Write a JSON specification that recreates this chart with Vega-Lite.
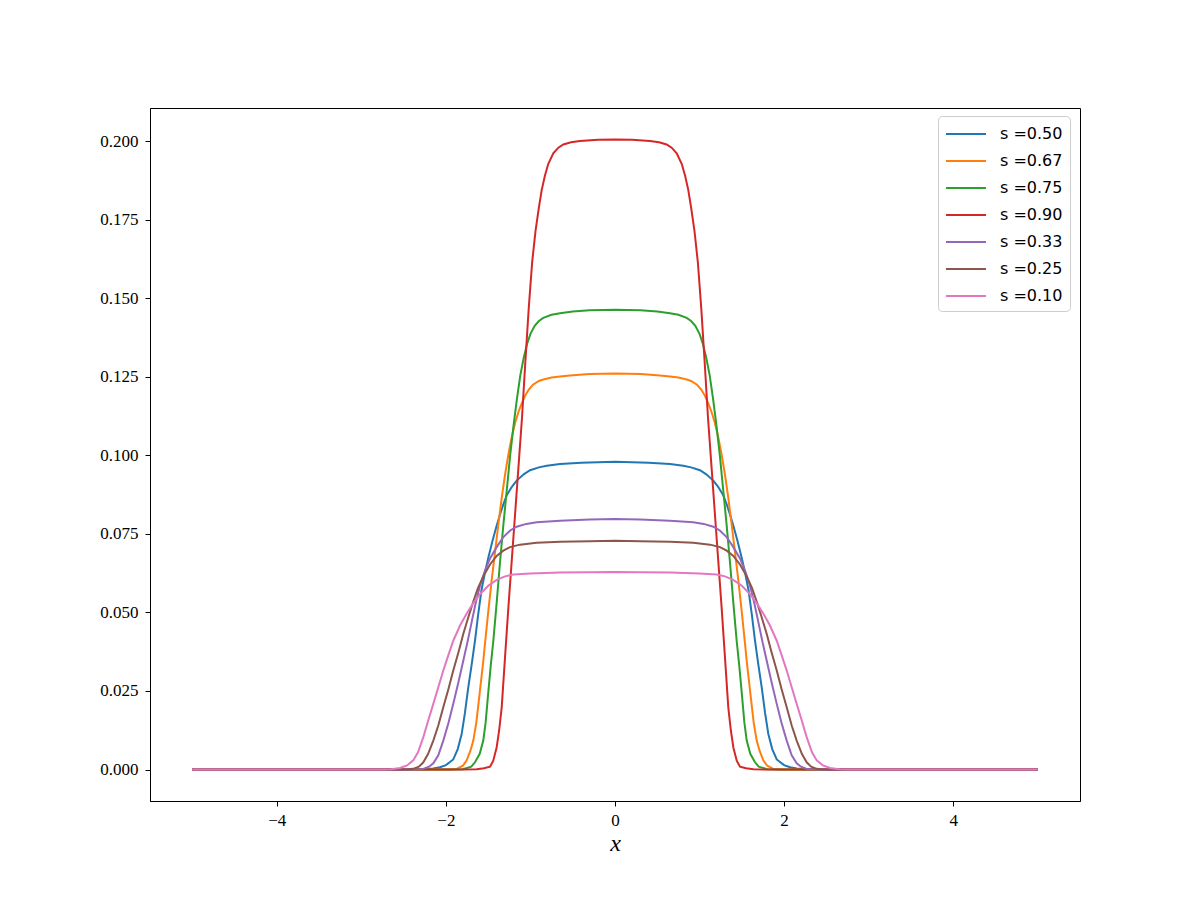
{
  "$schema": "https://vega.github.io/schema/vega-lite/v6.json",
  "width": 930,
  "height": 693,
  "autosize": {"type": "none"},
  "padding": {"left": 150, "top": 108, "right": 120, "bottom": 99},
  "background": "white",
  "config": {
    "view": {"stroke": "black", "strokeWidth": 1},
    "axis": {
      "domainColor": "black", "domainWidth": 1, "tickColor": "black", "tickSize": 5, "tickWidth": 1,
      "grid": false, "labelFont": "Liberation Serif", "labelFontSize": 17, "labelColor": "black",
      "titleFont": "Liberation Serif", "titleColor": "black"
    },
    "legend": {
      "padding": 7, "strokeColor": "#cccccc", "fillColor": "rgba(255,255,255,0.8)", "cornerRadius": 4,
      "labelFont": "DejaVu Sans", "labelFontSize": 16, "labelColor": "black",
      "symbolStrokeWidth": 2, "rowPadding": 8, "labelOffset": 33
    }
  },
  "data": {"values": [
    {"c":"s =0.50","x":-5,"y":0},{"c":"s =0.50","x":-2.4,"y":0},{"c":"s =0.50","x":-2.25,"y":0.0001},{"c":"s =0.50","x":-2.15,"y":0.0003},{"c":"s =0.50","x":-2.07,"y":0.0007},{"c":"s =0.50","x":-2.0,"y":0.0014},{"c":"s =0.50","x":-1.913,"y":0.0032},{"c":"s =0.50","x":-1.86,"y":0.0065},{"c":"s =0.50","x":-1.813,"y":0.0114},{"c":"s =0.50","x":-1.775,"y":0.018},{"c":"s =0.50","x":-1.735,"y":0.0262},{"c":"s =0.50","x":-1.695,"y":0.0335},{"c":"s =0.50","x":-1.656,"y":0.041},{"c":"s =0.50","x":-1.62,"y":0.049},{"c":"s =0.50","x":-1.58,"y":0.057},{"c":"s =0.50","x":-1.54,"y":0.0625},{"c":"s =0.50","x":-1.5,"y":0.0673},{"c":"s =0.50","x":-1.45,"y":0.0727},{"c":"s =0.50","x":-1.4,"y":0.0776},{"c":"s =0.50","x":-1.36,"y":0.0812},{"c":"s =0.50","x":-1.32,"y":0.0845},{"c":"s =0.50","x":-1.281,"y":0.0873},{"c":"s =0.50","x":-1.22,"y":0.09},{"c":"s =0.50","x":-1.163,"y":0.092},{"c":"s =0.50","x":-1.08,"y":0.094},{"c":"s =0.50","x":-1.005,"y":0.0953},{"c":"s =0.50","x":-0.9,"y":0.0962},{"c":"s =0.50","x":-0.808,"y":0.0967},{"c":"s =0.50","x":-0.65,"y":0.0973},{"c":"s =0.50","x":-0.4,"y":0.0977},{"c":"s =0.50","x":0,"y":0.098},
    {"c":"s =0.50","x":0.4,"y":0.0977},{"c":"s =0.50","x":0.65,"y":0.0973},{"c":"s =0.50","x":0.808,"y":0.0967},{"c":"s =0.50","x":0.9,"y":0.0962},{"c":"s =0.50","x":1.005,"y":0.0953},{"c":"s =0.50","x":1.08,"y":0.094},{"c":"s =0.50","x":1.163,"y":0.092},{"c":"s =0.50","x":1.22,"y":0.09},{"c":"s =0.50","x":1.281,"y":0.0873},{"c":"s =0.50","x":1.32,"y":0.0845},{"c":"s =0.50","x":1.36,"y":0.0812},{"c":"s =0.50","x":1.4,"y":0.0776},{"c":"s =0.50","x":1.45,"y":0.0727},{"c":"s =0.50","x":1.5,"y":0.0673},{"c":"s =0.50","x":1.54,"y":0.0625},{"c":"s =0.50","x":1.58,"y":0.057},{"c":"s =0.50","x":1.62,"y":0.049},{"c":"s =0.50","x":1.656,"y":0.041},{"c":"s =0.50","x":1.695,"y":0.0335},{"c":"s =0.50","x":1.735,"y":0.0262},{"c":"s =0.50","x":1.775,"y":0.018},{"c":"s =0.50","x":1.813,"y":0.0114},{"c":"s =0.50","x":1.86,"y":0.0065},{"c":"s =0.50","x":1.913,"y":0.0032},{"c":"s =0.50","x":2.0,"y":0.0014},{"c":"s =0.50","x":2.07,"y":0.0007},{"c":"s =0.50","x":2.15,"y":0.0003},{"c":"s =0.50","x":2.25,"y":0.0001},{"c":"s =0.50","x":2.4,"y":0},{"c":"s =0.50","x":5,"y":0},

    {"c":"s =0.67","x":-5,"y":0},{"c":"s =0.67","x":-2.3,"y":0},{"c":"s =0.67","x":-1.95,"y":0},{"c":"s =0.67","x":-1.872,"y":0.0002},{"c":"s =0.67","x":-1.8,"y":0.0012},{"c":"s =0.67","x":-1.754,"y":0.0029},{"c":"s =0.67","x":-1.71,"y":0.006},{"c":"s =0.67","x":-1.676,"y":0.0092},{"c":"s =0.67","x":-1.64,"y":0.015},{"c":"s =0.67","x":-1.597,"y":0.0252},{"c":"s =0.67","x":-1.56,"y":0.034},{"c":"s =0.67","x":-1.538,"y":0.04},{"c":"s =0.67","x":-1.5,"y":0.05},{"c":"s =0.67","x":-1.46,"y":0.06},{"c":"s =0.67","x":-1.42,"y":0.069},{"c":"s =0.67","x":-1.38,"y":0.078},{"c":"s =0.67","x":-1.34,"y":0.0865},{"c":"s =0.67","x":-1.3,"y":0.094},{"c":"s =0.67","x":-1.26,"y":0.1005},{"c":"s =0.67","x":-1.22,"y":0.106},{"c":"s =0.67","x":-1.18,"y":0.1105},{"c":"s =0.67","x":-1.14,"y":0.114},{"c":"s =0.67","x":-1.1,"y":0.1168},{"c":"s =0.67","x":-1.06,"y":0.1192},{"c":"s =0.67","x":-1.02,"y":0.121},{"c":"s =0.67","x":-0.97,"y":0.1225},{"c":"s =0.67","x":-0.9,"y":0.1237},{"c":"s =0.67","x":-0.848,"y":0.1242},{"c":"s =0.67","x":-0.75,"y":0.1248},{"c":"s =0.67","x":-0.65,"y":0.1251},{"c":"s =0.67","x":-0.5,"y":0.1255},{"c":"s =0.67","x":-0.3,"y":0.1259},{"c":"s =0.67","x":0,"y":0.1261},
    {"c":"s =0.67","x":0.3,"y":0.1259},{"c":"s =0.67","x":0.5,"y":0.1255},{"c":"s =0.67","x":0.65,"y":0.1251},{"c":"s =0.67","x":0.75,"y":0.1248},{"c":"s =0.67","x":0.848,"y":0.1242},{"c":"s =0.67","x":0.9,"y":0.1237},{"c":"s =0.67","x":0.97,"y":0.1225},{"c":"s =0.67","x":1.02,"y":0.121},{"c":"s =0.67","x":1.06,"y":0.1192},{"c":"s =0.67","x":1.1,"y":0.1168},{"c":"s =0.67","x":1.14,"y":0.114},{"c":"s =0.67","x":1.18,"y":0.1105},{"c":"s =0.67","x":1.22,"y":0.106},{"c":"s =0.67","x":1.26,"y":0.1005},{"c":"s =0.67","x":1.3,"y":0.094},{"c":"s =0.67","x":1.34,"y":0.0865},{"c":"s =0.67","x":1.38,"y":0.078},{"c":"s =0.67","x":1.42,"y":0.069},{"c":"s =0.67","x":1.46,"y":0.06},{"c":"s =0.67","x":1.5,"y":0.05},{"c":"s =0.67","x":1.538,"y":0.04},{"c":"s =0.67","x":1.56,"y":0.034},{"c":"s =0.67","x":1.597,"y":0.0252},{"c":"s =0.67","x":1.64,"y":0.015},{"c":"s =0.67","x":1.676,"y":0.0092},{"c":"s =0.67","x":1.71,"y":0.006},{"c":"s =0.67","x":1.754,"y":0.0029},{"c":"s =0.67","x":1.8,"y":0.0012},{"c":"s =0.67","x":1.872,"y":0.0002},{"c":"s =0.67","x":1.95,"y":0},{"c":"s =0.67","x":2.3,"y":0},{"c":"s =0.67","x":5,"y":0},

    {"c":"s =0.75","x":-5,"y":0},{"c":"s =0.75","x":-2.5,"y":0},{"c":"s =0.75","x":-1.9,"y":0},{"c":"s =0.75","x":-1.8,"y":0.0001},{"c":"s =0.75","x":-1.7,"y":0.0009},{"c":"s =0.75","x":-1.656,"y":0.0023},{"c":"s =0.75","x":-1.6,"y":0.005},{"c":"s =0.75","x":-1.558,"y":0.0092},{"c":"s =0.75","x":-1.53,"y":0.015},{"c":"s =0.75","x":-1.499,"y":0.0245},{"c":"s =0.75","x":-1.47,"y":0.033},{"c":"s =0.75","x":-1.439,"y":0.041},{"c":"s =0.75","x":-1.4,"y":0.053},{"c":"s =0.75","x":-1.36,"y":0.066},{"c":"s =0.75","x":-1.32,"y":0.078},{"c":"s =0.75","x":-1.28,"y":0.089},{"c":"s =0.75","x":-1.24,"y":0.1},{"c":"s =0.75","x":-1.2,"y":0.1095},{"c":"s =0.75","x":-1.16,"y":0.118},{"c":"s =0.75","x":-1.12,"y":0.1255},{"c":"s =0.75","x":-1.08,"y":0.131},{"c":"s =0.75","x":-1.04,"y":0.1355},{"c":"s =0.75","x":-1.0,"y":0.1387},{"c":"s =0.75","x":-0.95,"y":0.1413},{"c":"s =0.75","x":-0.9,"y":0.1428},{"c":"s =0.75","x":-0.848,"y":0.1438},{"c":"s =0.75","x":-0.75,"y":0.1448},{"c":"s =0.75","x":-0.65,"y":0.1453},{"c":"s =0.75","x":-0.5,"y":0.1458},{"c":"s =0.75","x":-0.3,"y":0.1462},{"c":"s =0.75","x":0,"y":0.1464},
    {"c":"s =0.75","x":0.3,"y":0.1462},{"c":"s =0.75","x":0.5,"y":0.1458},{"c":"s =0.75","x":0.65,"y":0.1453},{"c":"s =0.75","x":0.75,"y":0.1448},{"c":"s =0.75","x":0.848,"y":0.1438},{"c":"s =0.75","x":0.9,"y":0.1428},{"c":"s =0.75","x":0.95,"y":0.1413},{"c":"s =0.75","x":1.0,"y":0.1387},{"c":"s =0.75","x":1.04,"y":0.1355},{"c":"s =0.75","x":1.08,"y":0.131},{"c":"s =0.75","x":1.12,"y":0.1255},{"c":"s =0.75","x":1.16,"y":0.118},{"c":"s =0.75","x":1.2,"y":0.1095},{"c":"s =0.75","x":1.24,"y":0.1},{"c":"s =0.75","x":1.28,"y":0.089},{"c":"s =0.75","x":1.32,"y":0.078},{"c":"s =0.75","x":1.36,"y":0.066},{"c":"s =0.75","x":1.4,"y":0.053},{"c":"s =0.75","x":1.439,"y":0.041},{"c":"s =0.75","x":1.47,"y":0.033},{"c":"s =0.75","x":1.499,"y":0.0245},{"c":"s =0.75","x":1.53,"y":0.015},{"c":"s =0.75","x":1.558,"y":0.0092},{"c":"s =0.75","x":1.6,"y":0.005},{"c":"s =0.75","x":1.656,"y":0.0023},{"c":"s =0.75","x":1.7,"y":0.0009},{"c":"s =0.75","x":1.8,"y":0.0001},{"c":"s =0.75","x":1.9,"y":0},{"c":"s =0.75","x":2.5,"y":0},{"c":"s =0.75","x":5,"y":0},

    {"c":"s =0.90","x":-5,"y":0},{"c":"s =0.90","x":-2.5,"y":0},{"c":"s =0.90","x":-1.8,"y":0},{"c":"s =0.90","x":-1.636,"y":0.0001},{"c":"s =0.90","x":-1.55,"y":0.0004},{"c":"s =0.90","x":-1.478,"y":0.0009},{"c":"s =0.90","x":-1.44,"y":0.0028},{"c":"s =0.90","x":-1.4,"y":0.007},{"c":"s =0.90","x":-1.37,"y":0.0125},{"c":"s =0.90","x":-1.34,"y":0.0198},{"c":"s =0.90","x":-1.3,"y":0.036},{"c":"s =0.90","x":-1.26,"y":0.052},{"c":"s =0.90","x":-1.22,"y":0.067},{"c":"s =0.90","x":-1.18,"y":0.082},{"c":"s =0.90","x":-1.14,"y":0.097},{"c":"s =0.90","x":-1.1,"y":0.112},{"c":"s =0.90","x":-1.06,"y":0.13},{"c":"s =0.90","x":-1.02,"y":0.147},{"c":"s =0.90","x":-0.98,"y":0.1615},{"c":"s =0.90","x":-0.94,"y":0.1715},{"c":"s =0.90","x":-0.9,"y":0.179},{"c":"s =0.90","x":-0.867,"y":0.1845},{"c":"s =0.90","x":-0.83,"y":0.189},{"c":"s =0.90","x":-0.79,"y":0.1928},{"c":"s =0.90","x":-0.73,"y":0.1962},{"c":"s =0.90","x":-0.67,"y":0.198},{"c":"s =0.90","x":-0.611,"y":0.199},{"c":"s =0.90","x":-0.52,"y":0.1997},{"c":"s =0.90","x":-0.414,"y":0.2001},{"c":"s =0.90","x":-0.2,"y":0.2005},{"c":"s =0.90","x":0,"y":0.2006},
    {"c":"s =0.90","x":0.2,"y":0.2005},{"c":"s =0.90","x":0.414,"y":0.2001},{"c":"s =0.90","x":0.52,"y":0.1997},{"c":"s =0.90","x":0.611,"y":0.199},{"c":"s =0.90","x":0.67,"y":0.198},{"c":"s =0.90","x":0.73,"y":0.1962},{"c":"s =0.90","x":0.79,"y":0.1928},{"c":"s =0.90","x":0.83,"y":0.189},{"c":"s =0.90","x":0.867,"y":0.1845},{"c":"s =0.90","x":0.9,"y":0.179},{"c":"s =0.90","x":0.94,"y":0.1715},{"c":"s =0.90","x":0.98,"y":0.1615},{"c":"s =0.90","x":1.02,"y":0.147},{"c":"s =0.90","x":1.06,"y":0.13},{"c":"s =0.90","x":1.1,"y":0.112},{"c":"s =0.90","x":1.14,"y":0.097},{"c":"s =0.90","x":1.18,"y":0.082},{"c":"s =0.90","x":1.22,"y":0.067},{"c":"s =0.90","x":1.26,"y":0.052},{"c":"s =0.90","x":1.3,"y":0.036},{"c":"s =0.90","x":1.34,"y":0.0198},{"c":"s =0.90","x":1.37,"y":0.0125},{"c":"s =0.90","x":1.4,"y":0.007},{"c":"s =0.90","x":1.44,"y":0.0028},{"c":"s =0.90","x":1.478,"y":0.0009},{"c":"s =0.90","x":1.55,"y":0.0004},{"c":"s =0.90","x":1.636,"y":0.0001},{"c":"s =0.90","x":1.8,"y":0},{"c":"s =0.90","x":2.5,"y":0},{"c":"s =0.90","x":5,"y":0},

    {"c":"s =0.33","x":-5,"y":0},{"c":"s =0.33","x":-2.4,"y":0},{"c":"s =0.33","x":-2.3,"y":0.0001},{"c":"s =0.33","x":-2.267,"y":0.0002},{"c":"s =0.33","x":-2.2,"y":0.0009},{"c":"s =0.33","x":-2.149,"y":0.002},{"c":"s =0.33","x":-2.09,"y":0.0045},{"c":"s =0.33","x":-2.031,"y":0.0092},{"c":"s =0.33","x":-1.97,"y":0.0148},{"c":"s =0.33","x":-1.913,"y":0.0209},{"c":"s =0.33","x":-1.85,"y":0.028},{"c":"s =0.33","x":-1.794,"y":0.0347},{"c":"s =0.33","x":-1.74,"y":0.0412},{"c":"s =0.33","x":-1.695,"y":0.047},{"c":"s =0.33","x":-1.65,"y":0.0527},{"c":"s =0.33","x":-1.597,"y":0.0585},{"c":"s =0.33","x":-1.54,"y":0.0632},{"c":"s =0.33","x":-1.478,"y":0.0672},{"c":"s =0.33","x":-1.4,"y":0.0708},{"c":"s =0.33","x":-1.321,"y":0.0740},{"c":"s =0.33","x":-1.24,"y":0.0761},{"c":"s =0.33","x":-1.163,"y":0.0773},{"c":"s =0.33","x":-1.05,"y":0.0782},{"c":"s =0.33","x":-0.926,"y":0.0787},{"c":"s =0.33","x":-0.65,"y":0.0792},{"c":"s =0.33","x":-0.3,"y":0.0796},{"c":"s =0.33","x":0,"y":0.0798},
    {"c":"s =0.33","x":0.3,"y":0.0796},{"c":"s =0.33","x":0.65,"y":0.0792},{"c":"s =0.33","x":0.926,"y":0.0787},{"c":"s =0.33","x":1.05,"y":0.0782},{"c":"s =0.33","x":1.163,"y":0.0773},{"c":"s =0.33","x":1.24,"y":0.0761},{"c":"s =0.33","x":1.321,"y":0.0740},{"c":"s =0.33","x":1.4,"y":0.0708},{"c":"s =0.33","x":1.478,"y":0.0672},{"c":"s =0.33","x":1.54,"y":0.0632},{"c":"s =0.33","x":1.597,"y":0.0585},{"c":"s =0.33","x":1.65,"y":0.0527},{"c":"s =0.33","x":1.695,"y":0.047},{"c":"s =0.33","x":1.74,"y":0.0412},{"c":"s =0.33","x":1.794,"y":0.0347},{"c":"s =0.33","x":1.85,"y":0.028},{"c":"s =0.33","x":1.913,"y":0.0209},{"c":"s =0.33","x":1.97,"y":0.0148},{"c":"s =0.33","x":2.031,"y":0.0092},{"c":"s =0.33","x":2.09,"y":0.0045},{"c":"s =0.33","x":2.149,"y":0.002},{"c":"s =0.33","x":2.2,"y":0.0009},{"c":"s =0.33","x":2.267,"y":0.0002},{"c":"s =0.33","x":2.3,"y":0.0001},{"c":"s =0.33","x":2.4,"y":0},{"c":"s =0.33","x":5,"y":0},

    {"c":"s =0.25","x":-5,"y":0},{"c":"s =0.25","x":-2.6,"y":0},{"c":"s =0.25","x":-2.45,"y":0.0001},{"c":"s =0.25","x":-2.386,"y":0.0002},{"c":"s =0.25","x":-2.32,"y":0.0009},{"c":"s =0.25","x":-2.267,"y":0.0023},{"c":"s =0.25","x":-2.21,"y":0.005},{"c":"s =0.25","x":-2.149,"y":0.0092},{"c":"s =0.25","x":-2.09,"y":0.014},{"c":"s =0.25","x":-2.031,"y":0.0198},{"c":"s =0.25","x":-1.97,"y":0.0256},{"c":"s =0.25","x":-1.913,"y":0.0315},{"c":"s =0.25","x":-1.85,"y":0.0375},{"c":"s =0.25","x":-1.794,"y":0.0432},{"c":"s =0.25","x":-1.735,"y":0.0485},{"c":"s =0.25","x":-1.676,"y":0.0535},{"c":"s =0.25","x":-1.62,"y":0.0578},{"c":"s =0.25","x":-1.558,"y":0.0615},{"c":"s =0.25","x":-1.48,"y":0.0652},{"c":"s =0.25","x":-1.4,"y":0.068},{"c":"s =0.25","x":-1.321,"y":0.0697},{"c":"s =0.25","x":-1.242,"y":0.0708},{"c":"s =0.25","x":-1.124,"y":0.0716},{"c":"s =0.25","x":-0.926,"y":0.0722},{"c":"s =0.25","x":-0.65,"y":0.0725},{"c":"s =0.25","x":-0.3,"y":0.0727},{"c":"s =0.25","x":0,"y":0.0728},
    {"c":"s =0.25","x":0.3,"y":0.0727},{"c":"s =0.25","x":0.65,"y":0.0725},{"c":"s =0.25","x":0.926,"y":0.0722},{"c":"s =0.25","x":1.124,"y":0.0716},{"c":"s =0.25","x":1.242,"y":0.0708},{"c":"s =0.25","x":1.321,"y":0.0697},{"c":"s =0.25","x":1.4,"y":0.068},{"c":"s =0.25","x":1.48,"y":0.0652},{"c":"s =0.25","x":1.558,"y":0.0615},{"c":"s =0.25","x":1.62,"y":0.0578},{"c":"s =0.25","x":1.676,"y":0.0535},{"c":"s =0.25","x":1.735,"y":0.0485},{"c":"s =0.25","x":1.794,"y":0.0432},{"c":"s =0.25","x":1.85,"y":0.0375},{"c":"s =0.25","x":1.913,"y":0.0315},{"c":"s =0.25","x":1.97,"y":0.0256},{"c":"s =0.25","x":2.031,"y":0.0198},{"c":"s =0.25","x":2.09,"y":0.014},{"c":"s =0.25","x":2.149,"y":0.0092},{"c":"s =0.25","x":2.21,"y":0.005},{"c":"s =0.25","x":2.267,"y":0.0023},{"c":"s =0.25","x":2.32,"y":0.0009},{"c":"s =0.25","x":2.386,"y":0.0002},{"c":"s =0.25","x":2.45,"y":0.0001},{"c":"s =0.25","x":2.6,"y":0},{"c":"s =0.25","x":5,"y":0},

    {"c":"s =0.10","x":-5,"y":0},{"c":"s =0.10","x":-2.9,"y":0},{"c":"s =0.10","x":-2.75,"y":0},{"c":"s =0.10","x":-2.65,"y":0.0001},{"c":"s =0.10","x":-2.543,"y":0.0005},{"c":"s =0.10","x":-2.46,"y":0.0013},{"c":"s =0.10","x":-2.386,"y":0.0029},{"c":"s =0.10","x":-2.33,"y":0.0055},{"c":"s =0.10","x":-2.267,"y":0.0103},{"c":"s =0.10","x":-2.21,"y":0.0155},{"c":"s =0.10","x":-2.149,"y":0.0209},{"c":"s =0.10","x":-2.09,"y":0.0262},{"c":"s =0.10","x":-2.031,"y":0.0315},{"c":"s =0.10","x":-1.97,"y":0.0365},{"c":"s =0.10","x":-1.913,"y":0.041},{"c":"s =0.10","x":-1.83,"y":0.046},{"c":"s =0.10","x":-1.754,"y":0.0497},{"c":"s =0.10","x":-1.68,"y":0.0528},{"c":"s =0.10","x":-1.597,"y":0.0558},{"c":"s =0.10","x":-1.5,"y":0.0585},{"c":"s =0.10","x":-1.399,"y":0.0604},{"c":"s =0.10","x":-1.3,"y":0.0615},{"c":"s =0.10","x":-1.203,"y":0.0621},{"c":"s =0.10","x":-1.0,"y":0.0624},{"c":"s =0.10","x":-0.65,"y":0.0627},{"c":"s =0.10","x":-0.3,"y":0.0628},{"c":"s =0.10","x":0,"y":0.0629},
    {"c":"s =0.10","x":0.3,"y":0.0628},{"c":"s =0.10","x":0.65,"y":0.0627},{"c":"s =0.10","x":1.0,"y":0.0624},{"c":"s =0.10","x":1.203,"y":0.0621},{"c":"s =0.10","x":1.3,"y":0.0615},{"c":"s =0.10","x":1.399,"y":0.0604},{"c":"s =0.10","x":1.5,"y":0.0585},{"c":"s =0.10","x":1.597,"y":0.0558},{"c":"s =0.10","x":1.68,"y":0.0528},{"c":"s =0.10","x":1.754,"y":0.0497},{"c":"s =0.10","x":1.83,"y":0.046},{"c":"s =0.10","x":1.913,"y":0.041},{"c":"s =0.10","x":1.97,"y":0.0365},{"c":"s =0.10","x":2.031,"y":0.0315},{"c":"s =0.10","x":2.09,"y":0.0262},{"c":"s =0.10","x":2.149,"y":0.0209},{"c":"s =0.10","x":2.21,"y":0.0155},{"c":"s =0.10","x":2.267,"y":0.0103},{"c":"s =0.10","x":2.33,"y":0.0055},{"c":"s =0.10","x":2.386,"y":0.0029},{"c":"s =0.10","x":2.46,"y":0.0013},{"c":"s =0.10","x":2.543,"y":0.0005},{"c":"s =0.10","x":2.65,"y":0.0001},{"c":"s =0.10","x":2.75,"y":0},{"c":"s =0.10","x":2.9,"y":0},{"c":"s =0.10","x":5,"y":0}
  ]},
  "mark": {"type": "line", "strokeWidth": 2, "clip": true},
  "encoding": {
    "x": {
      "field": "x", "type": "quantitative",
      "scale": {"domain": [-5.5, 5.5], "nice": false, "zero": false},
      "axis": {"values": [-4, -2, 0, 2, 4], "format": "d", "title": "x", "titleFontStyle": "italic", "titleFontSize": 24, "titleFontWeight": "normal", "titlePadding": 3, "labelPadding": 6}
    },
    "y": {
      "field": "y", "type": "quantitative",
      "scale": {"domain": [-0.01003, 0.21063], "nice": false, "zero": false},
      "axis": {"values": [0, 0.025, 0.05, 0.075, 0.1, 0.125, 0.15, 0.175, 0.2], "format": ".3f", "title": null, "labelPadding": 7}
    },
    "color": {
      "field": "c", "type": "nominal",
      "scale": {
        "domain": ["s =0.50", "s =0.67", "s =0.75", "s =0.90", "s =0.33", "s =0.25", "s =0.10"],
        "range": ["#1f77b4", "#ff7f0e", "#2ca02c", "#d62728", "#9467bd", "#8c564b", "#e377c2"]
      },
      "legend": {"title": null, "orient": "none", "legendX": 788, "legendY": 8, "symbolType": "M-1,0H3", "symbolSize": 400}
    }
  }
}
